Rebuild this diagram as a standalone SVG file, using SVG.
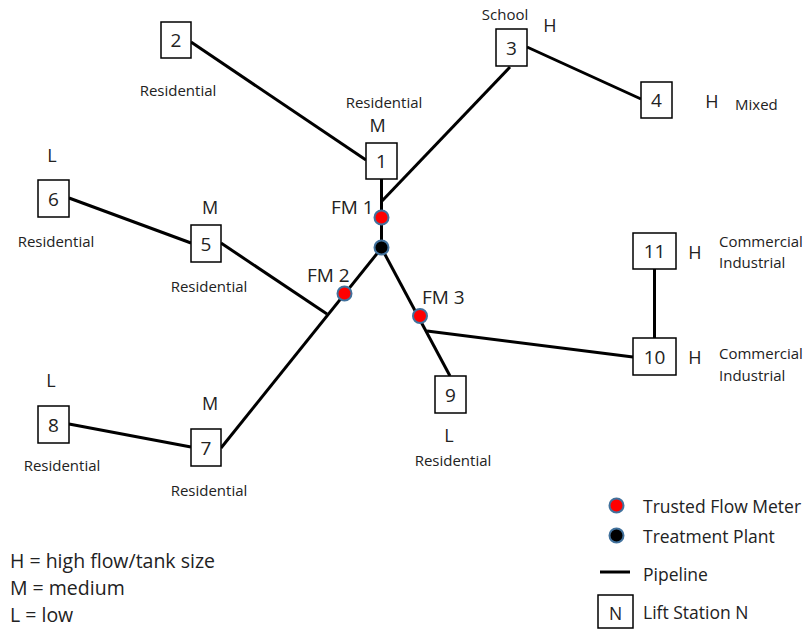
<svg xmlns="http://www.w3.org/2000/svg" width="805" height="629" viewBox="0 0 805 629">
<style>
text { font-family: "Open Sans", "Liberation Sans", sans-serif; fill: #222; }
.box { fill: #fff; stroke: #000; stroke-width: 1.5; }
.num { font-size: 19px; text-anchor: middle; }
.lbl { font-size: 15px; text-anchor: middle; }
.lbs { font-size: 15px; }
.lvl { font-size: 18px; text-anchor: middle; }
.fm { font-size: 19px; }
.leg { font-size: 17.5px; }
.key { font-size: 19.5px; }
.pipe { stroke: #000; stroke-width: 3; fill: none; }
.meter { fill: #ff0000; stroke: #41719c; stroke-width: 2; }
.plant { fill: #000; stroke: #41719c; stroke-width: 2; }
</style>
<rect width="805" height="629" fill="#fff"/>
<g id="connectors">
<line class="pipe" x1="191" y1="42" x2="366" y2="160"/>
<line class="pipe" x1="510" y1="67" x2="382" y2="201"/>
<line class="pipe" x1="527" y1="47" x2="641" y2="99"/>
<line class="pipe" x1="381.5" y1="179" x2="381.5" y2="248"/>
<line class="pipe" x1="69" y1="198" x2="191" y2="243"/>
<line class="pipe" x1="221" y1="243" x2="327" y2="314"/>
<line class="pipe" x1="381.5" y1="248" x2="221" y2="448"/>
<line class="pipe" x1="69" y1="424" x2="191" y2="447"/>
<line class="pipe" x1="381.5" y1="248" x2="450" y2="376"/>
<line class="pipe" x1="427" y1="331" x2="633" y2="357"/>
<line class="pipe" x1="654.5" y1="269" x2="654.5" y2="338"/>
</g>
<g id="node1"><rect class="box" x="366" y="143" width="31" height="36"/><text class="num" x="381.5" y="168">1</text>
<text class="lbl" x="384" y="108">Residential</text><text class="lvl" x="377.5" y="132">M</text></g>
<g id="node2"><rect class="box" x="161" y="22" width="30" height="36"/><text class="num" x="176" y="47">2</text>
<text class="lbl" x="178" y="96">Residential</text></g>
<g id="node3"><rect class="box" x="496" y="29" width="31" height="37"/><text class="num" x="511.5" y="54.5">3</text>
<text class="lbl" x="505" y="20">School</text><text class="lvl" x="550" y="32">H</text></g>
<g id="node4"><rect class="box" x="641" y="82" width="31" height="36"/><text class="num" x="656.5" y="107">4</text>
<text class="lvl" x="712" y="108">H</text><text class="lbs" x="735" y="110">Mixed</text></g>
<g id="node5"><rect class="box" x="191" y="225" width="30" height="37"/><text class="num" x="206" y="250.5">5</text>
<text class="lvl" x="210" y="214">M</text><text class="lbl" x="209" y="292">Residential</text></g>
<g id="node6"><rect class="box" x="38" y="180" width="31" height="37"/><text class="num" x="53.5" y="205.5">6</text>
<text class="lvl" x="52" y="162">L</text><text class="lbl" x="56" y="247">Residential</text></g>
<g id="node7"><rect class="box" x="191" y="429" width="30" height="37"/><text class="num" x="206" y="454.5">7</text>
<text class="lvl" x="210" y="410">M</text><text class="lbl" x="209" y="496">Residential</text></g>
<g id="node8"><rect class="box" x="38" y="406" width="31" height="37"/><text class="num" x="53.5" y="431.5">8</text>
<text class="lvl" x="51" y="387">L</text><text class="lbl" x="62" y="471">Residential</text></g>
<g id="node9"><rect class="box" x="435" y="376" width="31" height="37"/><text class="num" x="450.5" y="401.5">9</text>
<text class="lvl" x="449" y="442">L</text><text class="lbl" x="453" y="466">Residential</text></g>
<g id="node10"><rect class="box" x="633" y="338" width="43" height="37"/><text class="num" x="654.5" y="363.5">10</text>
<text class="lvl" x="695" y="364">H</text><text class="lbs" x="719" y="359">Commercial</text><text class="lbs" x="719" y="381">Industrial</text></g>
<g id="node11"><rect class="box" x="633" y="233" width="43" height="36"/><text class="num" x="654.5" y="258">11</text>
<text class="lvl" x="695" y="259">H</text><text class="lbs" x="719" y="247">Commercial</text><text class="lbs" x="719" y="268">Industrial</text></g>
<g id="fm1"><circle class="meter" cx="381.5" cy="217.5" r="7"/><text class="fm" x="331" y="214">FM 1</text></g>
<g id="plant"><circle class="plant" cx="381.5" cy="247.5" r="7"/></g>
<g id="fm2"><circle class="meter" cx="344.5" cy="293.5" r="7"/><text class="fm" x="307" y="282">FM 2</text></g>
<g id="fm3"><circle class="meter" cx="420" cy="316" r="7"/><text class="fm" x="422" y="304">FM 3</text></g>
<g id="legend">
<circle class="meter" cx="616.5" cy="505.5" r="7"/><text class="leg" x="643" y="513">Trusted Flow Meter</text>
<circle class="plant" cx="616.5" cy="535.5" r="7"/><text class="leg" x="643" y="543">Treatment Plant</text>
<line class="pipe" x1="600" y1="572" x2="630" y2="572"/><text class="leg" x="643" y="581">Pipeline</text>
<rect class="box" x="598" y="595" width="35" height="33"/><text class="leg" x="615.5" y="620" text-anchor="middle">N</text><text class="leg" x="643" y="619">Lift Station N</text>
</g>
<g id="key">
<text class="key" x="10" y="568">H = high flow/tank size</text>
<text class="key" x="10" y="595">M = medium</text>
<text class="key" x="10" y="622">L = low</text>
</g>
</svg>
